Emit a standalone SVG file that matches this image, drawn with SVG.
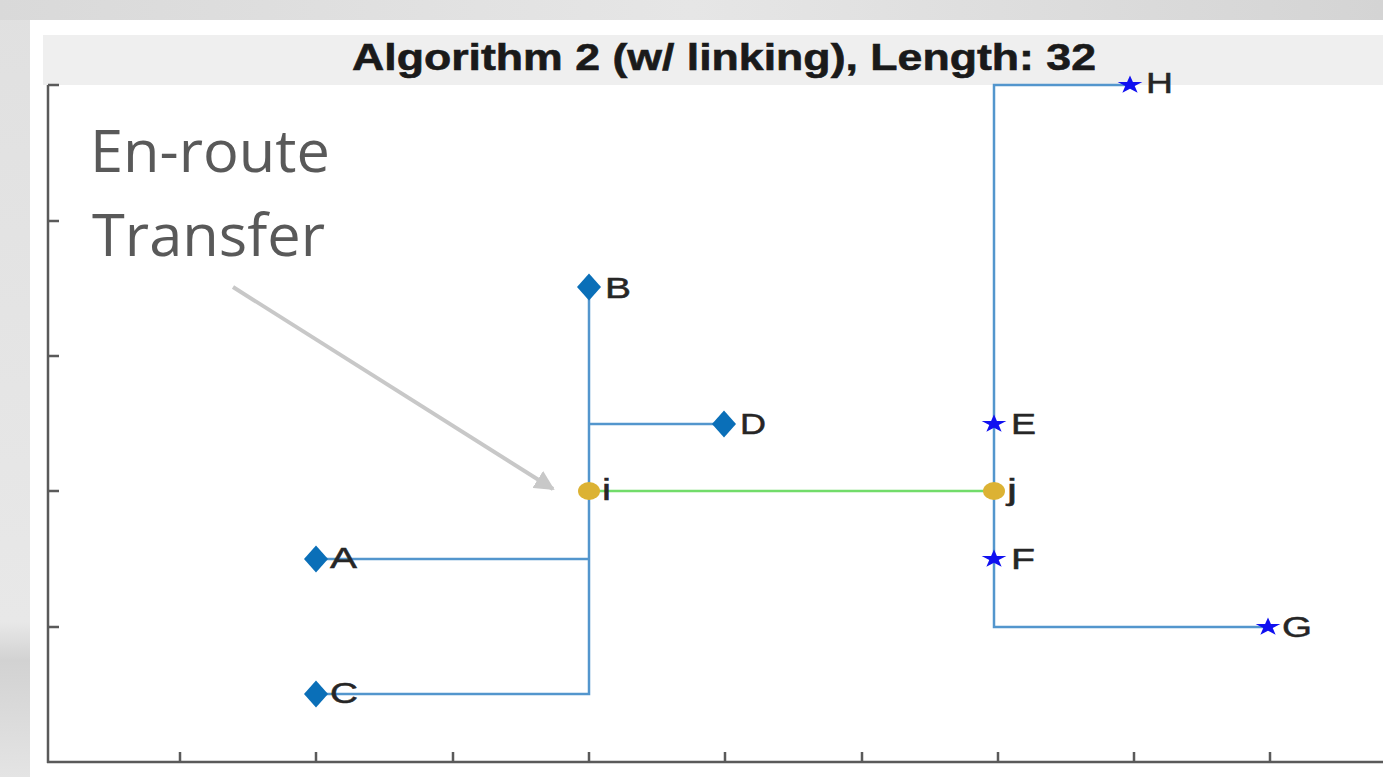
<svg xmlns="http://www.w3.org/2000/svg" width="1383" height="777" viewBox="0 0 1383 777">
  <style>
    .lbl { font-family: "Liberation Sans", Arial, sans-serif; font-size: 29px; fill: #262626; stroke: #262626; stroke-width: 0.5; }
    .edge { fill: none; stroke: #5396cd; stroke-width: 2.5; }
    .link { fill: none; stroke: #72dc6a; stroke-width: 2.5; }
    .axis { fill: none; stroke: #5a5a5a; stroke-width: 2.5; }
    .dia { fill: #0a6fb8; }
    .star { fill: #1010f0; }
    .hub { fill: #dcb233; }
    .note { font-family: "Open Sans", "Noto Sans", sans-serif; font-size: 59px; fill: #595959; }
  </style>
  <defs>
    <linearGradient id="bgTop" x1="0" y1="0" x2="1" y2="0">
      <stop offset="0" stop-color="#d9d9d9"/>
      <stop offset="0.5" stop-color="#e6e6e6"/>
      <stop offset="1" stop-color="#d4d4d4"/>
    </linearGradient>
    <linearGradient id="bgLeft" x1="0" y1="0" x2="0" y2="1">
      <stop offset="0" stop-color="#e0e0e0"/>
      <stop offset="0.8" stop-color="#e8e8e8"/>
      <stop offset="0.85" stop-color="#d2d2d2"/>
      <stop offset="1" stop-color="#e4e4e4"/>
    </linearGradient>
    <path id="diamond" d="M0,-13.5 L12,0 L0,13.5 L-12,0 Z"/>
    <path id="star" d="M0,-9.5 L2.92,-2.94 L12.36,-2.94 L4.72,1.12 L7.64,7.69 L0,3.63 L-7.64,7.69 L-4.72,1.12 L-12.36,-2.94 L-2.92,-2.94 Z"/>
    <marker id="arrow" viewBox="0 0 10 10" refX="9" refY="5" markerWidth="5" markerHeight="5" orient="auto" markerUnits="strokeWidth">
      <path d="M0,0 L10,5 L0,10 Z" fill="#c8c8c8"/>
    </marker>
  </defs>

  <!-- background -->
  <rect x="0" y="0" width="1383" height="777" fill="url(#bgLeft)"/>
  <rect x="0" y="0" width="1383" height="20" fill="url(#bgTop)"/>
  <rect x="30" y="20" width="1353" height="757" fill="#ffffff"/>
  <rect x="43" y="35" width="1340" height="50" fill="#efefef"/>

  <!-- title -->
  <text x="724" y="70" text-anchor="middle" font-family="Liberation Sans, Arial, sans-serif" font-weight="bold" font-size="37" fill="#1a1a1a" stroke="#1a1a1a" stroke-width="0.6" textLength="744" lengthAdjust="spacingAndGlyphs">Algorithm 2 (w/ linking), Length: 32</text>

  <!-- axes -->
  <g id="axes">
    <line class="axis" x1="48" y1="85" x2="48" y2="763"/>
    <line class="axis" x1="47" y1="762" x2="1383" y2="762"/>
    <path class="axis" d="M48,85 H59 M48,221 H59 M48,356 H59 M48,491 H59 M48,627 H59"/>
    <path class="axis" d="M180,762 V752 M316,762 V752 M453,762 V752 M589,762 V752 M725,762 V752 M862,762 V752 M998,762 V752 M1134,762 V752 M1270,762 V752"/>
  </g>

  <!-- connectors -->
  <g id="connectors">
    <path class="edge" d="M589,287 V694 H316"/>
    <path class="edge" d="M589,424 H724"/>
    <path class="edge" d="M316,559 H589"/>
    <path class="edge" d="M1130,85 H994 V627 H1268"/>
    <path class="link" d="M589,491 H994"/>
    <line x1="233" y1="287" x2="553" y2="489" stroke="#c8c8c8" stroke-width="4" marker-end="url(#arrow)"/>
  </g>

  <!-- annotation -->
  <g id="annotation">
    <text class="note" x="90" y="172" textLength="240" lengthAdjust="spacingAndGlyphs">En-route</text>
    <text class="note" x="92" y="256" textLength="233" lengthAdjust="spacingAndGlyphs">Transfer</text>
  </g>

  <!-- nodes -->
  <g id="node-A"><use href="#diamond" class="dia" x="316" y="559"/><text class="lbl" x="330" y="568" textLength="27" lengthAdjust="spacingAndGlyphs">A</text></g>
  <g id="node-B"><use href="#diamond" class="dia" x="589" y="287"/><text class="lbl" x="605" y="298" textLength="26" lengthAdjust="spacingAndGlyphs">B</text></g>
  <g id="node-C"><use href="#diamond" class="dia" x="316" y="694"/><text class="lbl" x="330" y="703" textLength="28" lengthAdjust="spacingAndGlyphs">C</text></g>
  <g id="node-D"><use href="#diamond" class="dia" x="724" y="424"/><text class="lbl" x="740" y="434" textLength="26" lengthAdjust="spacingAndGlyphs">D</text></g>
  <g id="node-E"><use href="#star" class="star" x="994" y="424"/><text class="lbl" x="1011" y="434" textLength="25" lengthAdjust="spacingAndGlyphs">E</text></g>
  <g id="node-F"><use href="#star" class="star" x="994" y="559"/><text class="lbl" x="1011" y="569" textLength="24" lengthAdjust="spacingAndGlyphs">F</text></g>
  <g id="node-G"><use href="#star" class="star" x="1268" y="627"/><text class="lbl" x="1282" y="637" textLength="30" lengthAdjust="spacingAndGlyphs">G</text></g>
  <g id="node-H"><use href="#star" class="star" x="1130" y="85"/><text class="lbl" x="1146" y="93" textLength="27" lengthAdjust="spacingAndGlyphs">H</text></g>
  <g id="node-i"><ellipse class="hub" cx="589" cy="491" rx="11" ry="9"/><text class="lbl" x="602" y="500" textLength="9" lengthAdjust="spacingAndGlyphs">i</text></g>
  <g id="node-j"><ellipse class="hub" cx="994" cy="491" rx="11" ry="9"/><text class="lbl" x="1007" y="500" textLength="10" lengthAdjust="spacingAndGlyphs">j</text></g>
</svg>
